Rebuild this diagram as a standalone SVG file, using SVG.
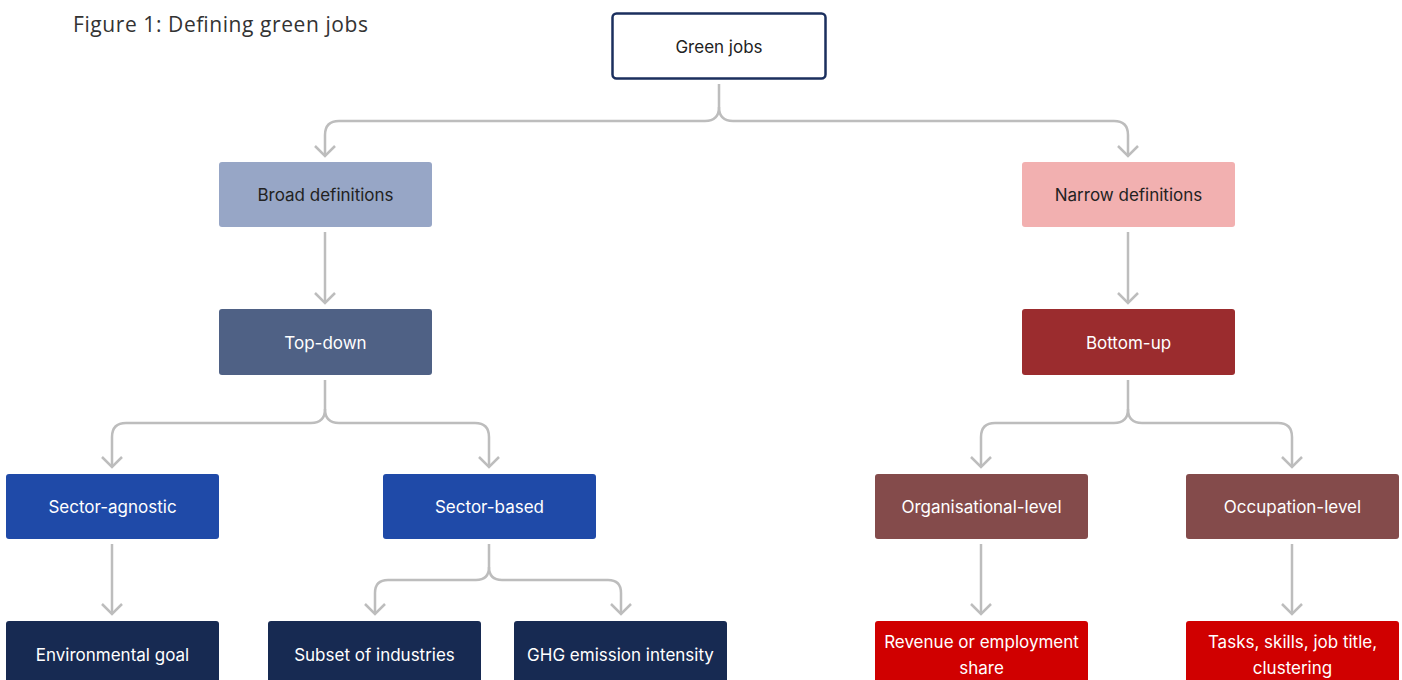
<svg xmlns="http://www.w3.org/2000/svg" width="1402" height="680" viewBox="0 0 1402 680">
<style>
.t{font-family:Inter,"Noto Sans","Liberation Sans",sans-serif;font-size:17px;text-anchor:middle;dominant-baseline:central}
.d{fill:#222}
.w{fill:#fff}
.c{fill:none;stroke:#bdbdbd;stroke-width:2.5}
</style>
<defs>
<marker id="arr" markerUnits="userSpaceOnUse" viewBox="0 0 14 24" markerWidth="14" markerHeight="24" refX="12" refY="12" orient="auto">
<path d="M2,2 L12,12 L2,22" fill="none" stroke="#bdbdbd" stroke-width="2.5"/>
</marker>
</defs>
<rect width="1402" height="680" fill="#fff"/>
<text x="73" y="32" font-family="'Open Sans',Lato,'Liberation Sans',sans-serif" font-size="21" fill="#333" textLength="295">Figure 1: Defining green jobs</text>
<g id="connectors">
<path class="c" d="M719,84 V107 Q719,121 705,121 H339 Q325,121 325,135 V156" marker-end="url(#arr)"/>
<path class="c" d="M719,107 Q719,121 733,121 H1114 Q1128,121 1128,135 V156" marker-end="url(#arr)"/>
<path class="c" d="M325,232 V303" marker-end="url(#arr)"/>
<path class="c" d="M1128,232 V303" marker-end="url(#arr)"/>
<path class="c" d="M325,380 V409 Q325,423 311,423 H126 Q112,423 112,437 V467" marker-end="url(#arr)"/>
<path class="c" d="M325,409 Q325,423 339,423 H475 Q489,423 489,437 V467" marker-end="url(#arr)"/>
<path class="c" d="M1128,380 V409 Q1128,423 1114,423 H995 Q981,423 981,437 V467" marker-end="url(#arr)"/>
<path class="c" d="M1128,409 Q1128,423 1142,423 H1278 Q1292,423 1292,437 V467" marker-end="url(#arr)"/>
<path class="c" d="M112,544 V614" marker-end="url(#arr)"/>
<path class="c" d="M981,544 V614" marker-end="url(#arr)"/>
<path class="c" d="M1292,544 V614" marker-end="url(#arr)"/>
<path class="c" d="M489,544 V567 Q489,580 476,580 H388 Q375,580 375,593 V614" marker-end="url(#arr)"/>
<path class="c" d="M489,567 Q489,580 502,580 H608 Q621,580 621,593 V614" marker-end="url(#arr)"/>
</g>
<g id="green-jobs"><rect x="612.5" y="13.5" width="213" height="65" rx="4" fill="#fff" stroke="#1b2f5e" stroke-width="2.5"/><text class="t d" x="719" y="47">Green jobs</text></g>
<g id="broad"><rect x="219" y="162" width="213" height="65" rx="3" fill="#97a6c6"/><text class="t d" x="325.5" y="195">Broad definitions</text></g>
<g id="narrow"><rect x="1022" y="162" width="213" height="65" rx="3" fill="#f2b0b0"/><text class="t d" x="1128.5" y="195">Narrow definitions</text></g>
<g id="top-down"><rect x="219" y="309" width="213" height="66" rx="3" fill="#4f6185"/><text class="t w" x="325.5" y="342.5">Top-down</text></g>
<g id="bottom-up"><rect x="1022" y="309" width="213" height="66" rx="3" fill="#9b2c2e"/><text class="t w" x="1128.5" y="342.5">Bottom-up</text></g>
<g id="sector-agnostic"><rect x="6" y="474" width="213" height="65" rx="3" fill="#1f4aa8"/><text class="t w" x="112.5" y="507">Sector-agnostic</text></g>
<g id="sector-based"><rect x="383" y="474" width="213" height="65" rx="3" fill="#1f4aa8"/><text class="t w" x="489.5" y="507">Sector-based</text></g>
<g id="organisational"><rect x="875" y="474" width="213" height="65" rx="3" fill="#844b4b"/><text class="t w" x="981.5" y="507">Organisational-level</text></g>
<g id="occupation"><rect x="1186" y="474" width="213" height="65" rx="3" fill="#844b4b"/><text class="t w" x="1292.5" y="507">Occupation-level</text></g>
<g id="environmental-goal"><rect x="6" y="621" width="213" height="70" rx="3" fill="#172a52"/><text class="t w" x="112.5" y="655">Environmental goal</text></g>
<g id="subset-industries"><rect x="268" y="621" width="213" height="70" rx="3" fill="#172a52"/><text class="t w" x="374.5" y="655">Subset of industries</text></g>
<g id="ghg"><rect x="514" y="621" width="213" height="70" rx="3" fill="#172a52"/><text class="t w" x="620.5" y="655">GHG emission intensity</text></g>
<g id="revenue"><rect x="875" y="621" width="213" height="70" rx="3" fill="#d00000"/><text class="t w" x="981.5" y="642">Revenue or employment</text><text class="t w" x="981.5" y="668">share</text></g>
<g id="tasks"><rect x="1186" y="621" width="213" height="70" rx="3" fill="#d00000"/><text class="t w" x="1292.5" y="642">Tasks, skills, job title,</text><text class="t w" x="1292.5" y="668">clustering</text></g>
</svg>
